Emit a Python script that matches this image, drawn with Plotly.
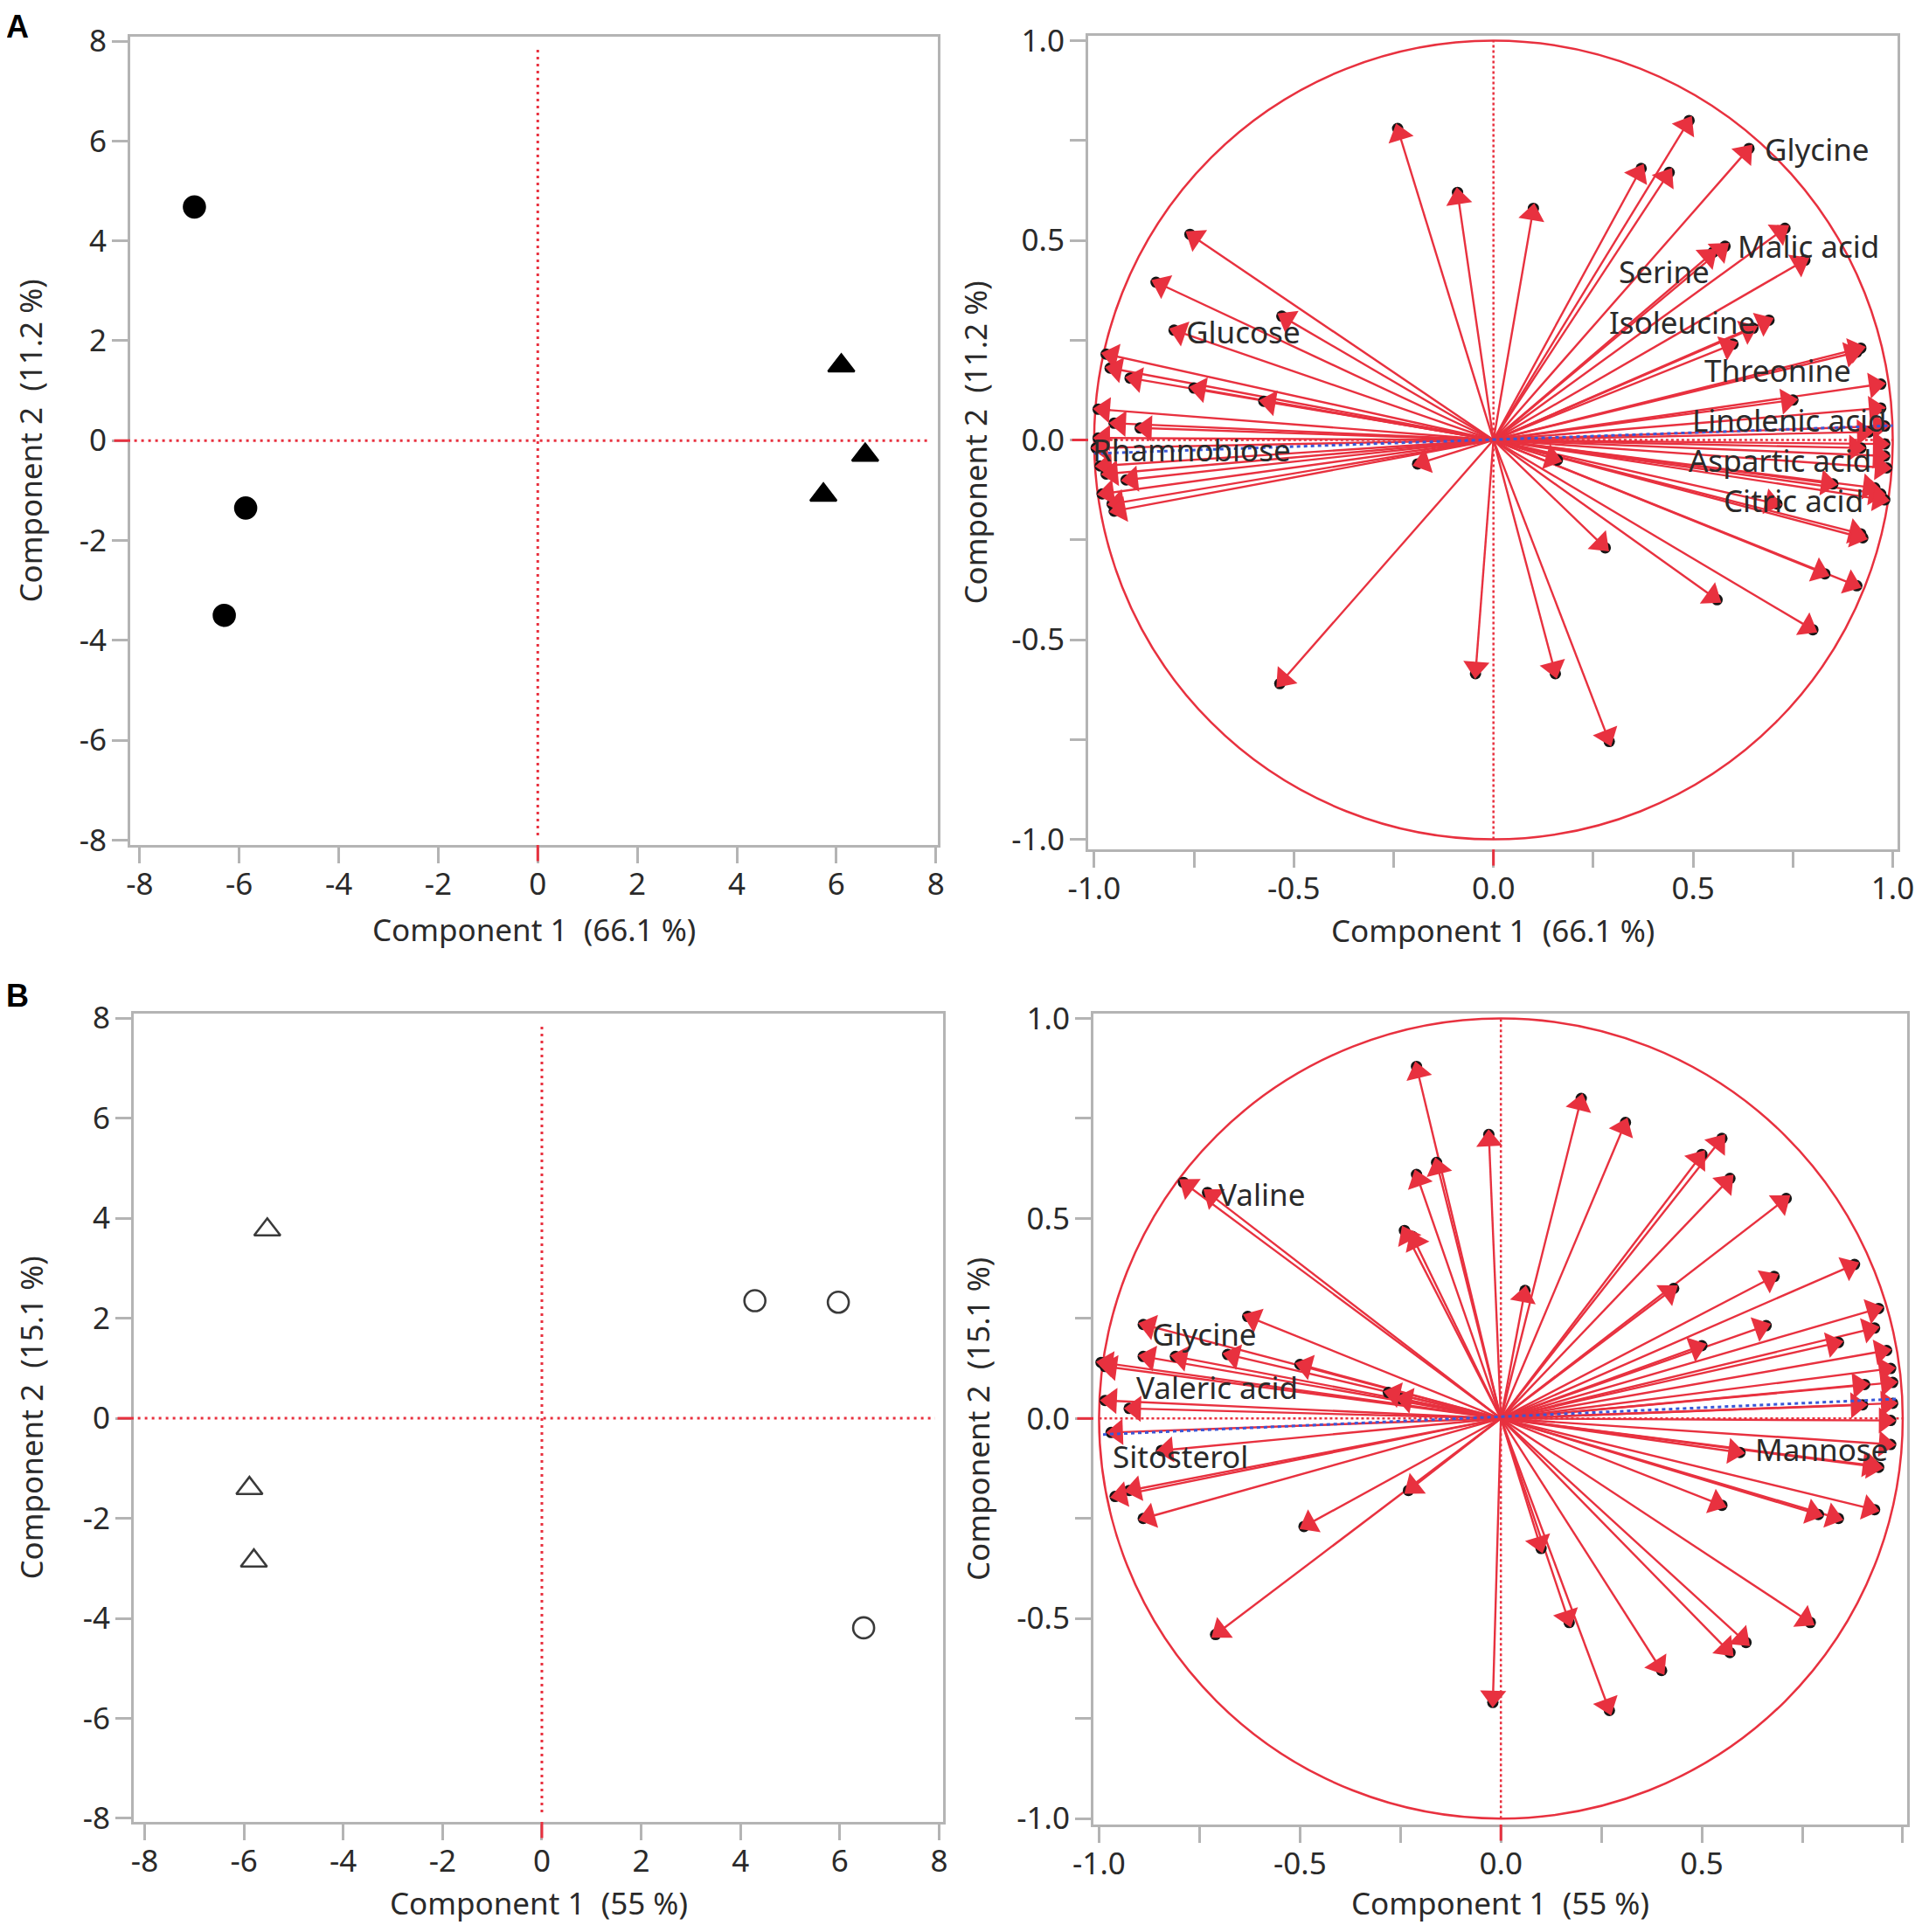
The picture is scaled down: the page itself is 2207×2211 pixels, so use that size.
import math
import plotly.graph_objects as go

# ---------------- data ----------------
# Panel A scores
a_grp1_x = [-6.9, -5.87, -6.3]
a_grp1_y = [4.68, -1.35, -3.5]
a_grp2_x = [6.1, 6.58, 5.74]
a_grp2_y = [1.5, -0.29, -1.09]

# Panel B scores
b_grp1_x = [-5.53, -5.89, -5.8]
b_grp1_y = [3.77, -1.40, -2.85]
b_grp2_x = [4.29, 5.97, 6.48]
b_grp2_y = [2.35, 2.32, -4.19]

# Panel A loadings
load_a_x = [-0.24, -0.09, 0.10, 0.49, 0.37, 0.44, 0.64, 0.73, 0.55, 0.58, 0.78,
            0.69, 0.65, 0.60, 0.92, 0.91, 0.75, 0.97, 0.97, 0.98, 0.94, 0.98,
            0.92, 0.98, 0.985, 0.955, 0.97, 0.98, 0.85, 0.71, 0.92, 0.925, 0.83,
            0.91, 0.80, 0.56, 0.28, 0.16, 0.155, 0.29, -0.045, -0.535, -0.19,
            -0.76, -0.845, -0.80, -0.53, -0.97, -0.96, -0.91, -0.75, -0.575,
            -0.99, -0.95, -0.885, -0.99, -0.995, -0.985, -0.97, -0.92, -0.98,
            -0.955, -0.95]
load_a_y = [0.78, 0.62, 0.58, 0.80, 0.68, 0.67, 0.73, 0.53, 0.47, 0.485, 0.45,
            0.30, 0.28, 0.24, 0.23, 0.22, 0.10, 0.14, 0.08, 0.035, 0.02, -0.01,
            -0.02, -0.04, -0.07, -0.12, -0.135, -0.15, -0.11, -0.16, -0.235, -0.245, -0.335,
            -0.365, -0.475, -0.40, -0.27, -0.05, -0.585, -0.755, -0.585, -0.61, -0.06,
            0.515, 0.395, 0.275, 0.31, 0.215, 0.18, 0.155, 0.13, 0.097,
            0.077, 0.042, 0.03, 0.005, -0.02, -0.065, -0.085, -0.10, -0.135,
            -0.16, -0.178]
load_a_names = {6: "Glycine", 9: "Malic acid", 8: "Serine", 11: "Isoleucine",
                14: "Threonine", 19: "Linolenic acid", 23: "Aspartic acid",
                26: "Citric acid", 45: "Glucose", 56: "Rhamnobiose"}
fit_a_x = [-1.0, 1.0]
fit_a_y = [-0.034, 0.036]

# Panel B loadings
load_b_x = [-0.21, -0.03, 0.20, 0.31, -0.16, -0.21, -0.24, -0.22, 0.50, 0.55, 0.57,
            0.71, 0.06, 0.43, 0.68, 0.88, 0.66, 0.50, 0.84, 0.94, 0.93, 0.96,
            0.97, 0.975, 0.905, 0.90, 0.975, 0.97, 0.97, 0.595, 0.94, 0.93, 0.55,
            0.79, 0.84, 0.93, 0.77, 0.61, 0.57, 0.40, 0.27, 0.17, 0.10, -0.02,
            -0.23, -0.49, -0.71,
            -0.79, -0.73, -0.63, -0.89, -0.89, -0.81, -0.68, -0.50, -0.985, -0.995,
            -0.985, -0.925, -0.97, -0.845, -0.96, -0.925, -0.89, -0.28, -0.25]
load_b_y = [0.88, 0.71, 0.80, 0.74, 0.64, 0.61, 0.47, 0.455, 0.66, 0.70, 0.60,
            0.55, 0.32, 0.325, 0.355, 0.385, 0.232, 0.182, 0.19, 0.275, 0.226, 0.17,
            0.125, 0.09, 0.085, 0.034, 0.038, -0.005, -0.065, -0.085, -0.122, -0.118, -0.217,
            -0.24, -0.25, -0.228, -0.51, -0.56, -0.585, -0.63, -0.73, -0.51, -0.325, -0.71,
            -0.18, -0.27, -0.54,
            0.59, 0.565, 0.255, 0.235, 0.155, 0.155, 0.16, 0.135, 0.13, 0.14,
            0.045, 0.025, -0.035, -0.08, -0.195, -0.18, -0.25, 0.065, 0.05]
load_b_names = {48: "Valine", 50: "Glycine", 58: "Valeric acid", 59: "Sitosterol",
                29: "Mannose"}
fit_b_x = [-0.99, 0.99]
fit_b_y = [-0.04, 0.049]

score_ticks = [-8, -6, -4, -2, 0, 2, 4, 6, 8]
score_ticktext = ["-8", "-6", "-4", "-2", "0", "2", "4", "6", "8"]
load_ticks = [-1.0, -0.5, 0.0, 0.5, 1.0]
load_ticktext = ["-1.0", "-0.5", "0.0", "0.5", "1.0"]
load_minor_ticks = [-0.75, -0.25, 0.25, 0.75]

titles = {
    "A": ("Component 1\u00a0 (66.1 %)", "Component 2\u00a0 (11.2 %)"),
    "B": ("Component 1\u00a0 (55 %)", "Component 2\u00a0 (15.1 %)"),
}

# ---------------- style ----------------
PAGE_W, PAGE_H = 2207, 2211
BODY = 8                      # default page margin around the plot div
W, H = PAGE_W - 2 * BODY, PAGE_H - 2 * BODY
FONT = "Noto Sans"
TXT = "#2a2a2a"
RED = "#e8313f"
FRAME = "#b4b4b4"
BLUE = "#3a57d8"
FS = 35
HEAD = 26

# label placement (style): xanchor, xshift, yshift
label_style_a = {
    "Glycine": ("left", 16, -1), "Malic acid": ("left", 12, 0),
    "Serine": ("right", -2, -22), "Isoleucine": ("right", -14, -2),
    "Threonine": ("right", -9, -25), "Linolenic acid": ("right", 5, 7),
    "Aspartic acid": ("right", -13, -5), "Citric acid": ("right", -18, -7),
    "Glucose": ("left", 12, -2), "Rhamnobiose": ("left", -6, -2),
}
label_style_b = {
    "Valine": ("left", 10, -2), "Glycine": ("left", 8, -11),
    "Valeric acid": ("left", 6, 24), "Sitosterol": ("left", 0, -27),
    "Mannose": ("left", 15, 4),
}

def dom_x(p0, p1):
    return [(p0 - BODY) / W, (p1 - BODY) / W]

def dom_y(p0, p1):
    return [1 - (p1 - BODY) / H, 1 - (p0 - BODY) / H]

# page-pixel boxes: (left, right, top, bottom), plus title centres (x-title y, y-title x)
boxes = {
    "1": (149, 1073, 42, 967, 1064, 34),
    "2": (1245, 2171, 41, 972, 1064, 1115),
    "3": (153, 1079, 1160, 2085, 2177, 35),
    "4": (1251, 2182, 1160, 2088, 2177, 1118),
}
ranges = {
    "1": ([-8.19, 8.04], [-8.1, 8.09]),
    "2": ([-1.015, 1.012], [-1.025, 1.012]),
    "3": ([-8.22, 8.08], [-8.07, 8.09]),
    "4": ([-1.014, 1.011], [-1.015, 1.012]),
}

fig = go.Figure()

def ax_names(k):
    return ("x" if k == "1" else "x" + k), ("y" if k == "1" else "y" + k)

# ---------------- score plots ----------------
for k, (g1x, g1y, s1, g2x, g2y, s2, fill) in {
    "1": (a_grp1_x, a_grp1_y, "circle", a_grp2_x, a_grp2_y, "triangle-up", True),
    "3": (b_grp1_x, b_grp1_y, "triangle-up-open", b_grp2_x, b_grp2_y, "circle-open", False),
}.items():
    xa, ya = ax_names(k)
    col = "#000000" if fill else "#3a3a3a"
    for gx, gy, sym in [(g1x, g1y, s1), (g2x, g2y, s2)]:
        sz = 24 if sym.startswith("circle") else 26
        fig.add_trace(go.Scatter(x=gx, y=gy, mode="markers", xaxis=xa, yaxis=ya,
                                 marker=dict(symbol=sym, size=sz, color=col,
                                             line=dict(width=2.6, color=col)),
                                 showlegend=False, hoverinfo="skip"))

annotations = []
shapes = []

# ---------------- loading plots ----------------
for k, (lx, ly, names, fx, fy, lstyle) in {
    "2": (load_a_x, load_a_y, load_a_names, fit_a_x, fit_a_y, label_style_a),
    "4": (load_b_x, load_b_y, load_b_names, fit_b_x, fit_b_y, label_style_b),
}.items():
    xa, ya = ax_names(k)
    # unit circle and reference lines (below the traces)
    shapes.append(dict(type="circle", xref=xa, yref=ya, x0=-1, x1=1, y0=-1, y1=1,
                       line=dict(color=RED, width=2.5), layer="below"))
    shapes.append(dict(type="line", xref=xa, yref=ya, x0=0, x1=0, y0=-1, y1=1,
                       line=dict(color=RED, width=2.5, dash="3px,3px"), layer="below"))
    shapes.append(dict(type="line", xref=xa, yref=ya, x0=-1, x1=1, y0=0, y1=0,
                       line=dict(color=RED, width=2.5, dash="3px,3px"), layer="below"))
    # arrow shafts
    sx, sy = [], []
    for ex, ey in zip(lx, ly):
        sx += [0, ex, None]
        sy += [0, ey, None]
    fig.add_trace(go.Scatter(x=sx, y=sy, mode="lines", xaxis=xa, yaxis=ya,
                             line=dict(color=RED, width=2.4),
                             showlegend=False, hoverinfo="skip"))
    # endpoint dots
    fig.add_trace(go.Scatter(x=lx, y=ly, mode="markers", xaxis=xa, yaxis=ya,
                             marker=dict(symbol="circle", size=13, color="#151515"),
                             showlegend=False, hoverinfo="skip"))
    # arrow heads, oriented along each loading vector
    angles = [math.degrees(math.atan2(ex, ey)) for ex, ey in zip(lx, ly)]
    fig.add_trace(go.Scatter(x=lx, y=ly, mode="markers", xaxis=xa, yaxis=ya,
                             marker=dict(symbol="triangle-up", size=HEAD, color=RED,
                                         angle=angles, standoff=HEAD / 2 - 6,
                                         line=dict(width=0)),
                             showlegend=False, hoverinfo="skip"))
    # blue dotted line on top
    fig.add_trace(go.Scatter(x=fx, y=fy, mode="lines", xaxis=xa, yaxis=ya,
                             line=dict(color=BLUE, width=3, dash="4px,4px"),
                             showlegend=False, hoverinfo="skip"))
    # labels
    for idx, name in names.items():
        anc, xs, ys = lstyle[name]
        annotations.append(dict(x=lx[idx], y=ly[idx], xref=xa, yref=ya, text=name,
                                showarrow=False, xanchor=anc, yanchor="middle",
                                xshift=xs, yshift=ys,
                                font=dict(family=FONT, size=FS, color=TXT)))

# ---------------- zero lines on score plots ----------------
for k in ["1", "3"]:
    xa, ya = ax_names(k)
    shapes.append(dict(type="line", xref=xa, yref=ya + " domain", x0=0, x1=0, y0=0.012, y1=0.988,
                       line=dict(color=RED, width=3, dash="3px,5px")))
    shapes.append(dict(type="line", xref=xa + " domain", yref=ya, x0=0.005, x1=0.99, y0=0, y1=0,
                       line=dict(color=RED, width=3, dash="3px,5px")))

# red zero ticks on every axis
for k in ["1", "2", "3", "4"]:
    xa, ya = ax_names(k)
    shapes.append(dict(type="line", xref=xa, yref=ya + " domain", x0=0, x1=0, y0=-0.02, y1=0,
                       line=dict(color=RED, width=3)))
    shapes.append(dict(type="line", xref=xa + " domain", yref=ya, x0=-0.02, x1=0, y0=0, y1=0,
                       line=dict(color=RED, width=3)))

# ---------------- axis titles & panel letters ----------------
for k, letter in [("1", "A"), ("2", "A"), ("3", "B"), ("4", "B")]:
    xa, ya = ax_names(k)
    xt, yt = titles[letter]
    l, r, t, b, tx_y, ty_x = boxes[k]
    annotations.append(dict(text=xt, xref=xa + " domain", yref=ya + " domain", x=0.5,
                            y=-(tx_y - b) / (b - t),
                            showarrow=False, xanchor="center", yanchor="middle",
                            font=dict(family=FONT, size=FS, color=TXT)))
    annotations.append(dict(text=yt, xref=xa + " domain", yref=ya + " domain",
                            x=(ty_x - l) / (r - l), y=0.5,
                            showarrow=False, xanchor="center", yanchor="middle", textangle=-90,
                            font=dict(family=FONT, size=FS, color=TXT)))

# panel letters (A anchored to the top edge so it is not clipped)
annotations.append(dict(text="<b>A</b>", xref="paper", yref="paper",
                        x=(20 - BODY) / W, y=1.0,
                        showarrow=False, xanchor="center", yanchor="top",
                        font=dict(family="Liberation Sans", size=36, color="#000")))
annotations.append(dict(text="<b>B</b>", xref="paper", yref="paper",
                        x=(20 - BODY) / W, y=1 - (1139 - BODY) / H,
                        showarrow=False, xanchor="center", yanchor="middle",
                        font=dict(family="Liberation Sans", size=36, color="#000")))

# ---------------- axes ----------------
def axis_common():
    return dict(showline=True, mirror=True, linecolor=FRAME, linewidth=3,
                ticks="outside", ticklen=18, tickwidth=3, tickcolor=FRAME,
                showgrid=False, zeroline=False, fixedrange=True, automargin=False,
                tickfont=dict(family=FONT, size=FS, color=TXT))

layout = dict(width=W, height=H,
              margin=dict(l=0, r=0, t=0, b=0, pad=0, autoexpand=False),
              paper_bgcolor="white", plot_bgcolor="white",
              annotations=annotations, shapes=shapes, showlegend=False)

for k in boxes:
    l, r, t, b, _, _ = boxes[k]
    xr, yr = ranges[k]
    xa, ya = ax_names(k)
    xkey = "xaxis" if k == "1" else "xaxis" + k
    ykey = "yaxis" if k == "1" else "yaxis" + k
    xd = axis_common()
    yd = axis_common()
    if k in ("1", "3"):
        xd.update(tickvals=score_ticks, ticktext=score_ticktext)
        yd.update(tickvals=score_ticks, ticktext=score_ticktext)
    else:
        minor = dict(tickvals=load_minor_ticks, ticks="outside", ticklen=18,
                     tickwidth=3, tickcolor=FRAME)
        xd.update(tickvals=load_ticks, ticktext=load_ticktext, minor=minor)
        yd.update(tickvals=load_ticks, ticktext=load_ticktext, minor=dict(minor))
    xd.update(domain=dom_x(l, r), range=xr, anchor=ya, ticklabelstandoff=-6)
    yd.update(domain=dom_y(t, b), range=yr, anchor=xa, ticklabelstandoff=-1)
    layout[xkey] = xd
    layout[ykey] = yd

fig.update_layout(**layout)
fig.write_html("out.html")
